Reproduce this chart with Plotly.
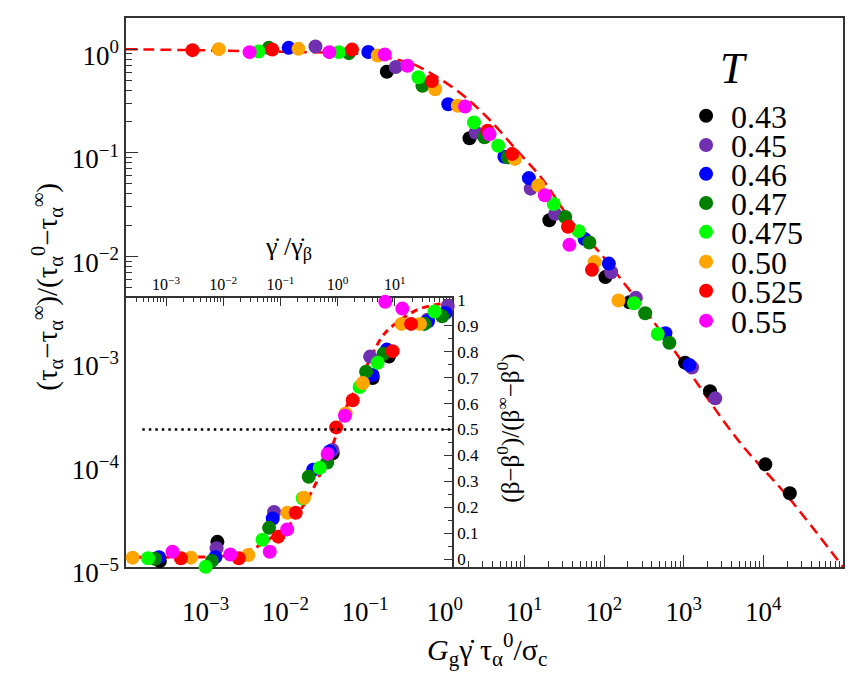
import plotly.graph_objects as go

FONT = "Liberation Serif, DejaVu Serif, Times New Roman, Times, serif"

temps = ["0.43", "0.45", "0.46", "0.47", "0.475", "0.50", "0.525", "0.55"]
colors = ["#000000", "#7030B0", "#0000FF", "#008000", "#00FF00", "#FFA500", "#FF0000", "#FF00FF"]

# ---- main panel data: x = G_g*gammadot*tau0/sigma_c, y = normalized tau_alpha
main_x_043 = [0.188, 2.05, 20.6, 104, 209, 1040, 2140, 10600, 21500]
main_y_043 = [0.605, 0.138, 0.0223, 0.0063, 0.0036, 9.4e-4, 4.97e-4, 9.8e-5, 5.16e-5]
main_x_045 = [0.0239, 0.243, 2.45, 12.0, 24.4, 123, 251, 1274, 2494]
main_y_045 = [1.06, 0.673, 0.157, 0.045, 0.0257, 0.00702, 0.00397, 8.45e-4, 4.25e-4]
main_x_046 = [0.011, 0.110, 1.11, 5.62, 11.4, 57.2, 115, 590, 1178]
main_y_046 = [1.03, 0.94, 0.294, 0.0916, 0.0569, 0.0147, 0.0085, 0.00181, 8.93e-4]
main_x_047 = [0.0062, 0.0627, 0.526, 3.16, 6.21, 32.6, 65.5, 329, 662]
main_y_047 = [1.03, 0.915, 0.444, 0.141, 0.0905, 0.024, 0.0136, 0.00282, 0.00146]
main_x_0475 = [0.00462, 0.0468, 0.469, 2.33, 4.70, 23.4, 48.1, 238, 473]
main_y_0475 = [0.948, 0.936, 0.536, 0.196, 0.117, 0.032, 0.0175, 0.00352, 0.00178]
main_x_050 = [0.00146, 0.0146, 0.1445, 0.759, 1.46, 7.6, 15.0, 76.2, 152]
main_y_050 = [1.0, 1.007, 0.868, 0.41, 0.284, 0.0872, 0.0484, 0.00879, 0.00374]
main_x_0525 = [6.84e-4, 0.00686, 0.0687, 0.69, 3.46, 7.03, 35.3, 70.6]
main_y_0525 = [0.978, 0.991, 0.991, 0.493, 0.163, 0.0974, 0.0193, 0.0074]
main_x_055 = [0.00356, 0.0357, 0.177, 0.341, 1.80, 3.65, 18.1, 36.8]
main_y_055 = [0.936, 0.936, 0.888, 0.691, 0.279, 0.151, 0.0388, 0.0129]

# main fit curve
fit_x = [1e-4, 1e-3, 1e-2, 0.1, 0.358, 0.552, 1.03, 1.84, 3.6, 7.76, 16.7, 39.6,
         90, 185, 361, 944, 4840, 20400, 1e5]
fit_y = [1.0, 0.974, 0.942, 0.891, 0.739, 0.637, 0.475, 0.341, 0.211, 0.1088, 0.0561,
         0.0215, 0.0107, 0.00532, 0.00274, 9.75e-4, 1.67e-4, 4.76e-5, 1.0e-5]

# ---- inset data: x = gammadot/gammadot_beta, y = normalized beta
ins_x_043 = [7.8e-4, 7.9e-3, 0.818, 4.08, 7.85]
ins_y_043 = [-0.007, 0.067, 0.408, 0.698, 0.781]
ins_x_045 = [7.64e-3, 0.0773, 0.807, 3.69, 37.2, 84.1]
ins_y_045 = [0.042, 0.182, 0.421, 0.781, 0.923, 0.976]
ins_x_046 = [7.52e-4, 7.28e-3, 0.0733, 0.373, 0.724, 4.08, 7.24, 37.9, 76.7]
ins_y_046 = [0.008, 0.008, 0.157, 0.345, 0.415, 0.71, 0.808, 0.917, 0.949]
ins_x_047 = [6.4e-4, 6.32e-3, 0.0632, 0.312, 0.656, 3.14, 6.35, 33.0, 67.1]
ins_y_047 = [0.002, -0.0065, 0.121, 0.318, 0.373, 0.723, 0.792, 0.907, 0.936]
ins_x_0475 = [4.83e-4, 4.91e-3, 0.0485, 0.245, 0.485, 2.42, 4.99, 49.3]
ins_y_0475 = [0.004, -0.0295, 0.075, 0.235, 0.352, 0.664, 0.757, 0.955]
ins_x_050 = [2.61e-4, 2.72e-3, 0.0274, 0.132, 0.258, 1.38, 2.76, 13.1, 27.5]
ins_y_050 = [0.006, 0.006, 0.016, 0.179, 0.237, 0.562, 0.679, 0.907, 0.907]
ins_x_0525 = [1.82e-3, 0.0187, 0.0914, 0.185, 0.942, 1.83, 9.12, 19.2]
ins_y_0525 = [0.004, 0.004, 0.087, 0.179, 0.508, 0.613, 0.802, 0.907]
ins_x_055 = [1.30e-3, 0.0133, 0.065, 0.131, 0.668, 1.34, 6.79, 13.5]
ins_y_055 = [0.029, 0.018, 0.029, 0.115, 0.406, 0.553, 0.992, 0.966]

ins_fit_x = [2.0e-4, 1.97e-3, 7.43e-3, 0.0147, 0.0303, 0.108, 0.141, 0.276, 0.413, 0.617,
             0.851, 1.29, 2.35, 4.03, 6.03, 9.0, 15.4, 26.2, 51.3, 93.8]
ins_fit_y = [0.007, 0.008, 0.010, 0.0165, 0.036, 0.112, 0.131, 0.221, 0.291, 0.380,
             0.451, 0.566, 0.680, 0.789, 0.859, 0.898, 0.936, 0.964, 0.981, 0.990]

# tick labels
main_xtick_vals = [1e-3, 1e-2, 1e-1, 1e0, 1e1, 1e2, 1e3, 1e4]
main_xtick_text = ["10<sup>−3</sup>", "10<sup>−2</sup>", "10<sup>−1</sup>", "10<sup>0</sup>",
                   "10<sup>1</sup>", "10<sup>2</sup>", "10<sup>3</sup>", "10<sup>4</sup>"]
main_ytick_vals = [1e-5, 1e-4, 1e-3, 1e-2, 1e-1, 1e0]
main_ytick_text = ["10<sup>−5</sup>", "10<sup>−4</sup>", "10<sup>−3</sup>", "10<sup>−2</sup>",
                   "10<sup>−1</sup>", "10<sup>0</sup>"]
ins_xtick_vals = [1e-3, 1e-2, 1e-1, 1e0, 1e1]
ins_xtick_text = ["10<sup>−3</sup>", "10<sup>−2</sup>", "10<sup>−1</sup>", "10<sup>0</sup>", "10<sup>1</sup>"]
ins_ytick_vals = [0, 0.1, 0.2, 0.3, 0.4, 0.5, 0.6, 0.7, 0.8, 0.9, 1.0]
ins_ytick_text = ["0", "0.1", "0.2", "0.3", "0.4", "0.5", "0.6", "0.7", "0.8", "0.9", "1"]

main_xs = [main_x_043, main_x_045, main_x_046, main_x_047, main_x_0475, main_x_050, main_x_0525, main_x_055]
main_ys = [main_y_043, main_y_045, main_y_046, main_y_047, main_y_0475, main_y_050, main_y_0525, main_y_055]
ins_xs = [ins_x_043, ins_x_045, ins_x_046, ins_x_047, ins_x_0475, ins_x_050, ins_x_0525, ins_x_055]
ins_ys = [ins_y_043, ins_y_045, ins_y_046, ins_y_047, ins_y_0475, ins_y_050, ins_y_0525, ins_y_055]

W, H = 855, 679
L, R, T, B = 126, 10, 15, 112
PW, PH = W - L - R, H - T - B

def px(xp):
    return (xp - L) / PW

def py(yp):
    return (H - B - yp) / PH

fig = go.Figure()

fig.add_trace(go.Scatter(x=fit_x, y=fit_y, mode="lines", line=dict(color="#FF0000", width=2.5, dash="11px,6px", shape="spline"),
                         showlegend=False, hoverinfo="skip"))
for t, c, xs, ys in zip(temps, colors, main_xs, main_ys):
    fig.add_trace(go.Scatter(x=xs, y=ys, mode="markers", name=t,
                             marker=dict(color=c, size=14, line=dict(width=0)), showlegend=False))

# inset
fig.add_trace(go.Scatter(x=ins_fit_x, y=ins_fit_y, xaxis="x2", yaxis="y2", mode="lines",
                         line=dict(color="#FF0000", width=3, dash="7px,5px", shape="spline"),
                         showlegend=False, hoverinfo="skip", cliponaxis=False))
for t, c, xs, ys in zip(temps, colors, ins_xs, ins_ys):
    fig.add_trace(go.Scatter(x=xs, y=ys, xaxis="x2", yaxis="y2", mode="markers", name=t,
                             marker=dict(color=c, size=14, line=dict(width=0)), showlegend=False,
                             cliponaxis=False))

axcol = "#333333"
inset_w = (453 - L) / PW
inset_h = (H - B - 297) / PH

fig.update_layout(
    width=W, height=H, autosize=False,
    margin=dict(l=L, r=R, t=T, b=B),
    paper_bgcolor="white", plot_bgcolor="white",
    font=dict(family=FONT, color="black"),
    showlegend=False,
    xaxis=dict(type="log", range=[-4, 5], domain=[0, 1],
               tickvals=main_xtick_vals, ticktext=main_xtick_text,
               ticks="inside", ticklen=12, tickwidth=1.2, tickcolor=axcol,
               minor=dict(ticks="inside", ticklen=6, dtick="D1", tickwidth=1, tickcolor=axcol, showgrid=False),
               showline=True, linecolor=axcol, linewidth=1.5, mirror=True, ticklabelstandoff=20,
               showgrid=False, zeroline=False, tickfont=dict(size=27, family=FONT)),
    yaxis=dict(type="log", range=[-5, 0.301], domain=[0, 1],
               tickvals=main_ytick_vals, ticktext=main_ytick_text,
               ticks="inside", ticklen=12, tickwidth=1.2, tickcolor=axcol,
               minor=dict(ticks="inside", ticklen=6, dtick="D1", tickwidth=1, tickcolor=axcol, showgrid=False),
               showline=True, linecolor=axcol, linewidth=1.5, mirror=True, ticklabelshift=6,
               showgrid=False, zeroline=False, tickfont=dict(size=27, family=FONT)),
    xaxis2=dict(type="log", range=[-3.7, 2], domain=[0, inset_w], anchor="y2", side="top",
                tickvals=ins_xtick_vals, ticktext=ins_xtick_text,
                ticks="inside", ticklen=8, tickwidth=1, tickcolor=axcol,
                minor=dict(ticks="inside", ticklen=4, dtick="D1", tickwidth=1, tickcolor=axcol, showgrid=False),
                showline=True, linecolor=axcol, linewidth=1.5,
                showgrid=False, zeroline=False, tickfont=dict(size=16, family=FONT),
                layer="below traces"),
    yaxis2=dict(range=[-0.03, 1.005], domain=[0, inset_h], anchor="x2", side="right",
                tickvals=ins_ytick_vals, ticktext=ins_ytick_text,
                ticks="inside", ticklen=8, tickwidth=1, tickcolor=axcol,
                minor=dict(ticks="inside", ticklen=4, dtick=0.05, tickwidth=1, tickcolor=axcol, showgrid=False),
                showline=True, linecolor=axcol, linewidth=1.5,
                showgrid=False, zeroline=False, tickfont=dict(size=17, family=FONT),
                layer="below traces"),
)

shapes = [dict(type="line", xref="x2 domain", yref="y2", x0=0.05, x1=1.0, y0=0.5, y1=0.5,
               line=dict(color="black", width=2.5, dash="2.5px,4px"))]

# legend (manual, to match the compact spacing)
leg_rows = [113.3, 142.7, 171.7, 201, 230, 260, 289.3, 319.3]
annotations = []
for t, c, yr in zip(temps, colors, leg_rows):
    shapes.append(dict(type="circle", xref="paper", yref="paper", xsizemode="pixel", ysizemode="pixel",
                       xanchor=px(707.7), yanchor=py(yr), x0=-7, x1=7, y0=-7, y1=7,
                       fillcolor=c, line=dict(width=0)))
    annotations.append(dict(text=t, xref="paper", yref="paper", x=px(731), y=py(yr + 1),
                            xanchor="left", yanchor="middle", showarrow=False, height=28,
                            valign="middle", font=dict(size=32, family=FONT)))
annotations.append(dict(text="<i>T</i>", xref="paper", yref="paper", x=px(736), y=py(66),
                        xanchor="center", yanchor="middle", showarrow=False,
                        font=dict(size=44, family=FONT)))

# axis titles
annotations.append(dict(text="<i>G</i><sub>g</sub>γ̇ τ<sub>α</sub><sup>0</sup>/σ<sub>c</sub>",
                        xref="paper", yref="paper", x=px(488), y=py(650),
                        xanchor="center", yanchor="middle", showarrow=False,
                        font=dict(size=30, family=FONT)))
annotations.append(dict(text="(τ<sub>α</sub>−τ<sub>α</sub><sup>∞</sup>)/(τ<sub>α</sub><sup>0</sup>−τ<sub>α</sub><sup>∞</sup>)",
                        xref="paper", yref="paper", x=px(46), y=py(285), textangle=-90,
                        xanchor="center", yanchor="middle", showarrow=False,
                        font=dict(size=29, family=FONT)))
annotations.append(dict(text="γ̇ /γ̇<sub>β</sub>",
                        xref="paper", yref="paper", x=px(289), y=py(246),
                        xanchor="center", yanchor="middle", showarrow=False,
                        font=dict(size=26, family=FONT)))
annotations.append(dict(text="(β−β<sup>0</sup>)/(β<sup>∞</sup>−β<sup>0</sup>)",
                        xref="paper", yref="paper", x=px(510), y=py(427), textangle=-90,
                        xanchor="center", yanchor="middle", showarrow=False,
                        font=dict(size=25, family=FONT)))

fig.update_layout(shapes=shapes, annotations=annotations)

fig.write_html("out.html", config={"displayModeBar": False},
               post_script="document.body.style.margin='0';document.body.style.padding='0';")
